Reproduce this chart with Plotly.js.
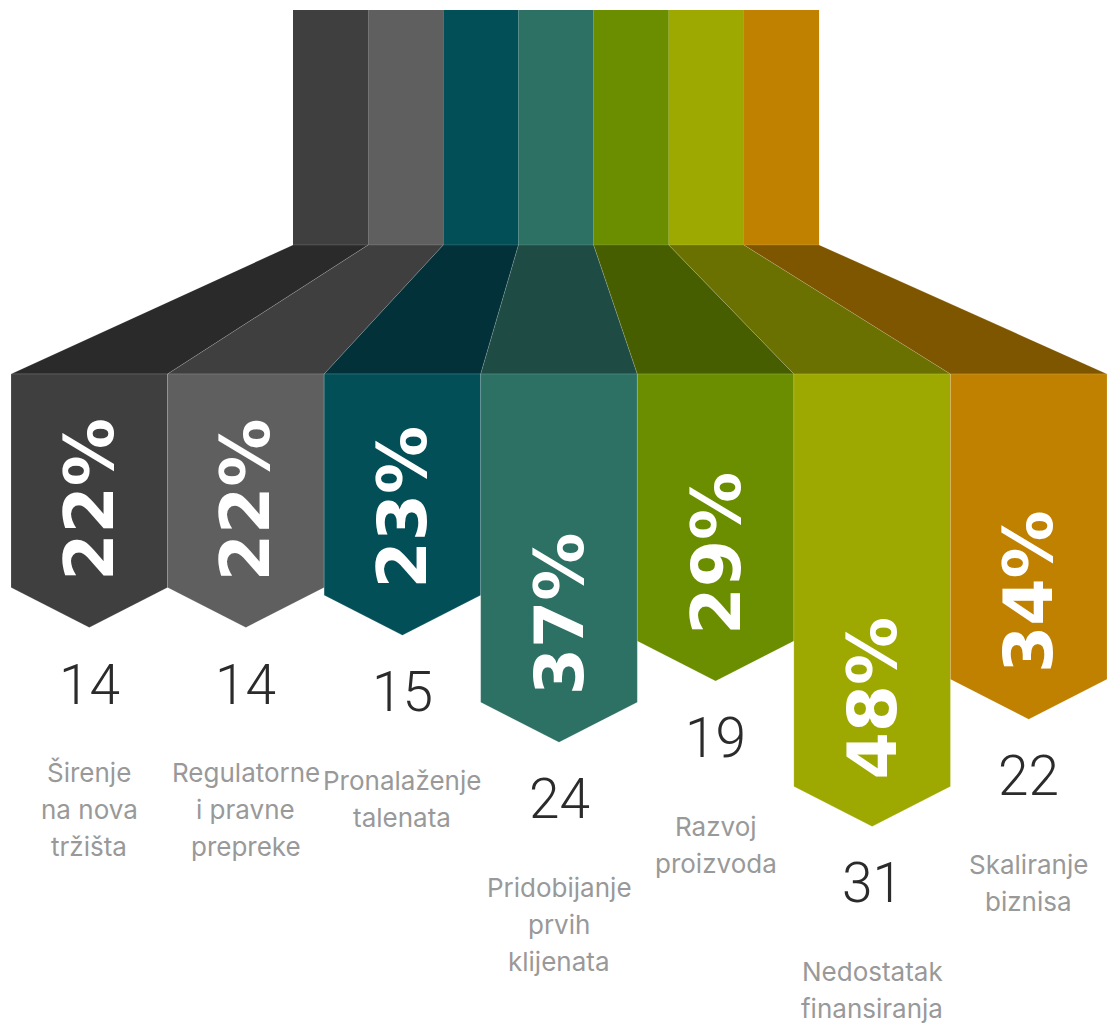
<!DOCTYPE html>
<html>
<head>
<meta charset="utf-8">
<script src="https://cdn.plot.ly/plotly-3.0.1.min.js"></script>
<style>
html,body{margin:0;padding:0;background:#ffffff;}
#chart{width:1107px;height:1026px;}
</style>
</head>
<body>
<div id="chart"></div>
<script>
// ---- data ----
const categories = [
  "Širenje\nna nova\ntržišta",
  "Regulatorne\ni pravne\nprepreke",
  "Pronalaženje\ntalenata",
  "Pridobijanje\nprvih\nklijenata",
  "Razvoj\nproizvoda",
  "Nedostatak\nfinansiranja",
  "Skaliranje\nbiznisa"
];
const pctValues = [22, 22, 23, 37, 29, 48, 34];
const counts = [14, 14, 15, 24, 19, 31, 22];
const pctLabels = pctValues.map(v => v + "%");

// ---- styles ----
const mainColors  = ["#3f3f3f", "#5f5f5f", "#034f58", "#2d7064", "#6a8e00", "#9da900", "#c08000"];
const shadeColors = ["#2a2a2a", "#3f3f3f", "#023139", "#1e4b43", "#475e00", "#6a7100", "#7f5600"];

// ---- geometry (axis units: x = category index, y = percentage scale) ----
const PXU = 7.65;                 // pixels per y unit
const Y_TOP_BAR = -53.49;         // top of upper bars
const Y_TOP_BAR_END = -22.78;     // bottom of upper bars
const Y_COL_TOP = -5.91;          // top of lower columns
const CHEVRON = 40 / PXU;         // depth of arrow point
const TOP_START = 1.3011;         // left edge of upper bar group (x units)
const TOP_W = 0.48;               // upper bar width (x units)

const traces = [];
const annotations = [];

pctValues.forEach((v, i) => {
  const a = TOP_START + TOP_W * i, b = a + TOP_W;
  const edge = {width: 0.8, color: "rgba(255,255,255,0.18)"};
  // upper bar
  traces.push({
    type: "scatter", mode: "lines", fill: "toself", fillcolor: mainColors[i],
    x: [a, b, b, a, a], y: [Y_TOP_BAR, Y_TOP_BAR, Y_TOP_BAR_END, Y_TOP_BAR_END, Y_TOP_BAR],
    line: {width: 0}, hoverinfo: "skip", showlegend: false
  });
  // transition trapezoid
  traces.push({
    type: "scatter", mode: "lines", fill: "toself", fillcolor: shadeColors[i],
    x: [a, b, i + 0.5, i - 0.5, a], y: [Y_TOP_BAR_END, Y_TOP_BAR_END, Y_COL_TOP, Y_COL_TOP, Y_TOP_BAR_END],
    line: edge, hoverinfo: "skip", showlegend: false
  });
  // lower column with arrow point, length from value
  traces.push({
    type: "scatter", mode: "lines", fill: "toself", fillcolor: mainColors[i],
    x: [i - 0.5, i + 0.5, i + 0.5, i, i - 0.5, i - 0.5],
    y: [Y_COL_TOP, Y_COL_TOP, v, v + CHEVRON, v, Y_COL_TOP],
    line: edge, hoverinfo: "skip", showlegend: false
  });

  // percentage label (rotated)
  annotations.push({
    x: i, y: v - 88 / PXU, xref: "x", yref: "y", text: "<b>" + pctLabels[i] + "</b>",
    textangle: -90, showarrow: false,
    font: {family: "DejaVu Sans", size: 68, color: "#ffffff", weight: 700}
  });
  // count label
  const yCount = v + CHEVRON + 57 / PXU;
  annotations.push({
    x: i, y: yCount, xref: "x", yref: "y", text: String(counts[i]), showarrow: false,
    font: {family: "Roboto", size: 55, color: "#2b2b2b", weight: 300}
  });
  // category label lines
  categories[i].split("\n").forEach((line, k) => {
    annotations.push({
      x: i, y: yCount + (88 + 37 * k) / PXU, xref: "x", yref: "y", text: line, showarrow: false,
      font: {family: "Inter", size: 26, color: "#999999", weight: 400}
    });
  });
});

const layout = {
  width: 1107, height: 1026,
  margin: {l: 0, r: 0, t: 0, b: 0, pad: 0},
  paper_bgcolor: "#ffffff", plot_bgcolor: "#ffffff",
  xaxis: {range: [-0.57026, 6.5], visible: false, fixedrange: true},
  yaxis: {range: [79.32, -54.80], visible: false, fixedrange: true},
  annotations: annotations,
  showlegend: false
};

Plotly.newPlot("chart", traces, layout, {displayModeBar: false, staticPlot: true});
</script>
</body>
</html>
